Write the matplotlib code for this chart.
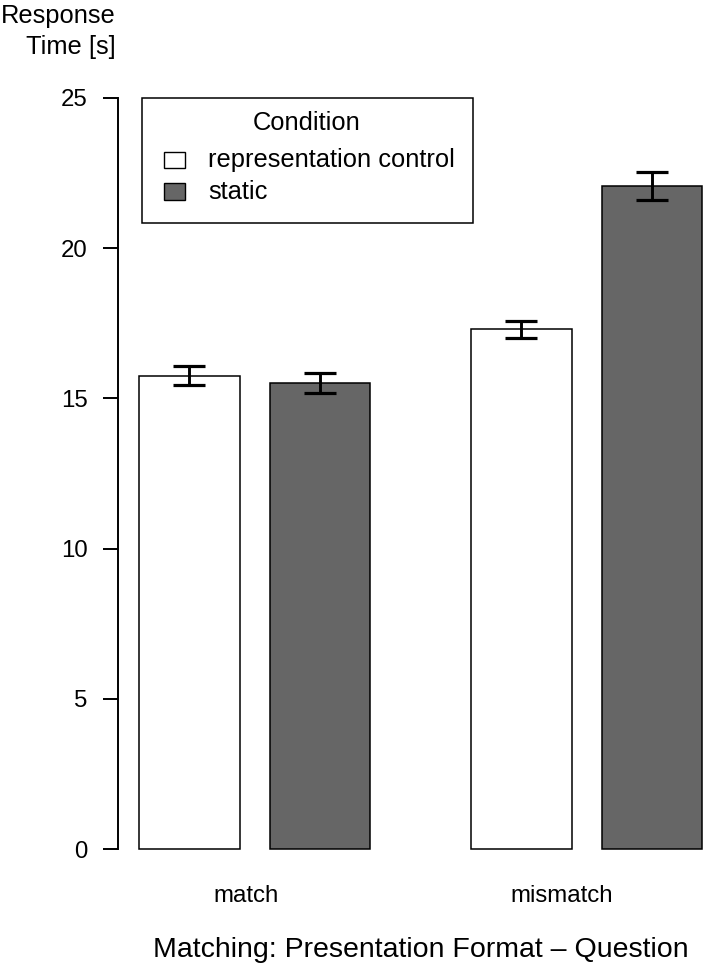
import matplotlib
matplotlib.use("Agg")
import matplotlib.pyplot as plt
import matplotlib.transforms as mtransforms
from matplotlib.patches import Rectangle
import numpy as np

# ---- data ----
groups = ["match", "mismatch"]
conditions = ["representation control", "static"]
means = {
    "representation control": [15.76, 17.30],
    "static": [15.50, 22.07],
}
errors = {
    "representation control": [0.33, 0.28],
    "static": [0.33, 0.47],
}
colors = {"representation control": "#ffffff", "static": "#666666"}
yticks = [0, 5, 10, 15, 20, 25]
xlabel = "Matching: Presentation Format \u2013 Question"
legend_title = "Condition"

plt.rcParams['font.family'] = ['Liberation Sans', 'DejaVu Sans']

W, H = 704, 965
fig = plt.figure(figsize=(W / 100, H / 100), dpi=100)
px = mtransforms.Affine2D().scale(1 / W, -1 / H).translate(0, 1) + fig.transFigure

# axes in pixel layout: x 118..704, y 98 (25) .. 849 (0)
ax = fig.add_axes([118 / W, (H - 849) / H, (704 - 118) / W, (849 - 98) / H])
unit = 100.6
ax.set_xlim((118 - 139) / unit, (704 - 139) / unit)
ax.set_ylim(0, 25)

space_in, space_between, width = 0.3, 1.0, 1.0
for g in range(len(groups)):
    for i, c in enumerate(conditions):
        left = g * (len(conditions) * width + space_in * (len(conditions) - 1) + space_between) + i * (width + space_in)
        ax.bar(left, means[c][g], width=width, align='edge', color=colors[c],
               edgecolor='black', linewidth=1.1, zorder=2, clip_on=False)
        ax.errorbar(left + width / 2, means[c][g], yerr=errors[c][g], fmt='none',
                    ecolor='black', elinewidth=2.1, capsize=11.6, capthick=2.3,
                    zorder=3, clip_on=False)

for s in ['top', 'right', 'bottom']:
    ax.spines[s].set_visible(False)
ax.spines['left'].set_bounds(0, 25)
ax.spines['left'].set_linewidth(1.4)
ax.set_yticks(yticks)
ax.set_yticklabels([str(t) for t in yticks], fontsize=17.3)
ax.tick_params(axis='y', length=11, width=1.4, pad=11)
ax.set_xticks([])

# group labels
blend = mtransforms.blended_transform_factory(ax.transData, px)
label_x = [(246.5 - 139) / unit, (561.7 - 139) / unit]
for lx, name in zip(label_x, groups):
    ax.text(lx, 901.5, name, transform=blend, ha='center', va='baseline', fontsize=17.3)

# x axis title
fig.text(421, 957, xlabel, transform=px, ha='center', va='baseline', fontsize=20.5)

# y label (top left)
fig.text(116, 23, "Response", transform=px, ha='right', va='baseline', fontsize=18.4)
fig.text(116, 54, "Time [s]", transform=px, ha='right', va='baseline', fontsize=18.4)

# legend box drawn manually (pixel coords, y downward)
fig.patches.append(Rectangle((141.7, 98.3), 473 - 141.7, 222.7 - 98.3, transform=px,
                             fill=True, facecolor='white', edgecolor='black', linewidth=1.1,
                             zorder=5))
fig.text(307, 130, legend_title, transform=px, ha='center', va='baseline', fontsize=18.4, zorder=6)
entry_y = [160, 191.7]
for c, ey in zip(conditions, entry_y):
    fig.patches.append(Rectangle((163.5, ey - 8.3), 21, 16.6, transform=px,
                                 facecolor=colors[c], edgecolor='black', linewidth=1.0, zorder=6))
    fig.text(208, ey + 7.5, c, transform=px, ha='left', va='baseline', fontsize=18.4, zorder=6)

fig.savefig("out.png", dpi=100)
